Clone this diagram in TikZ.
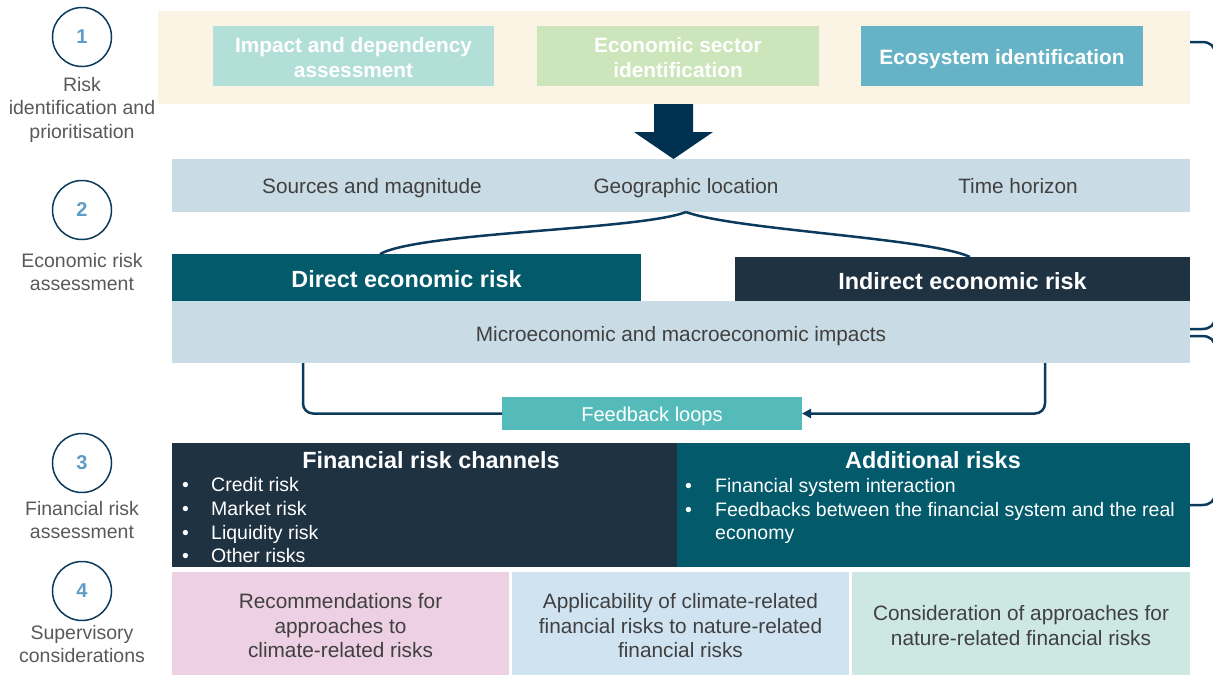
\documentclass[tikz,border=0pt]{standalone}
\usepackage{fontspec}
\setmainfont{Liberation Sans}
\usetikzlibrary{arrows.meta,calc}
\definecolor{cream}{HTML}{FBF4E4}
\definecolor{impactc}{HTML}{B2DFD8}
\definecolor{sectorc}{HTML}{CCE5BA}
\definecolor{ecoc}{HTML}{66B2C6}
\definecolor{arrownavy}{HTML}{003151}
\definecolor{bandblue}{HTML}{C9DCE6}
\definecolor{directc}{HTML}{025A6B}
\definecolor{indirectc}{HTML}{1F3241}
\definecolor{loopc}{HTML}{55BBBA}
\definecolor{pinkc}{HTML}{EDD0E3}
\definecolor{lightbluec}{HTML}{CFE3F1}
\definecolor{mintc}{HTML}{CDE8E3}
\definecolor{txtgray}{HTML}{404040}
\definecolor{lblgray}{HTML}{595959}
\definecolor{navy}{HTML}{0B3A5C}
\definecolor{numblue}{HTML}{5E9BC6}
\begin{document}
\begin{tikzpicture}[x=1pt,y=-1pt,
  rect/.style={draw=none,inner sep=0pt,outer sep=0pt},
  toptxt/.style={text=white,font=\bfseries\fontsize{20.8}{25}\selectfont,inner sep=0pt,align=center,anchor=base},
  body/.style={text=txtgray,font=\fontsize{20.8}{24.5}\selectfont,inner sep=0pt,align=center,anchor=base},
  head/.style={text=white,font=\bfseries\fontsize{23.4}{28}\selectfont,inner sep=0pt,anchor=base},
  bul/.style={text=white,font=\fontsize{19.5}{23.5}\selectfont,inner sep=0pt,anchor=base west,align=left},
  circ/.style={circle,draw=navy,line width=1.5pt,minimum size=59pt,inner sep=0pt,text=numblue,font=\bfseries\fontsize{20}{24}\selectfont},
  lbl/.style={text=lblgray,font=\fontsize{19.5}{23.5}\selectfont,align=center,inner sep=0pt,anchor=base},
  conn/.style={draw=navy,line width=2.5pt},
  brace/.style={draw=navy,line width=2.5pt}
]
\useasboundingbox (0,0) rectangle (1213,675);
\clip (0,0) rectangle (1213,675);

% row 1
\node[rect,fill=cream,minimum width=1032pt,minimum height=93pt] (band1) at (674,57.5) {};
\node[rect,fill=impactc,minimum width=281pt,minimum height=60pt] (impact) at (353.5,56) {};
\node[rect,fill=sectorc,minimum width=282pt,minimum height=60pt] (sector) at (678,56) {};
\node[rect,fill=ecoc,minimum width=282pt,minimum height=60pt] (eco) at (1002,56) {};
\node[toptxt] (impactT) at (353.5,77.5) {Impact and dependency\\assessment};
\node[toptxt] (sectorT) at (678,77.5) {Economic sector\\identification};
\node[toptxt] (ecoT) at (1002,64.5) {Ecosystem identification};

% big arrow
\fill[arrownavy] (654,104) -- (693,104) -- (693,132) -- (713,132) -- (673.5,159) -- (634,132) -- (654,132) -- cycle;

% row 2
\node[rect,fill=bandblue,minimum width=1018pt,minimum height=53pt] (band2) at (681,185.5) {};
\node[body] (src) at (372,193.5) {Sources and magnitude};
\node[body] (geo) at (686,193.5) {Geographic location};
\node[body] (time) at (1018,193.5) {Time horizon};

\node[rect,fill=directc,minimum width=469pt,minimum height=47pt] (direct) at (406.5,277.5) {};
\node[rect,fill=indirectc,minimum width=455pt,minimum height=44pt] (indirect) at (962.5,279) {};
\node[head] (directT) at (406.5,287.5) {Direct economic risk};
\node[head] (indirectT) at (962.5,289.5) {Indirect economic risk};
\node[rect,fill=bandblue,minimum width=1018pt,minimum height=62pt] (micro) at (681,332) {};
\node[body] (microtxt) at (681,341.5) {Microeconomic and macroeconomic impacts};

\coordinate (split) at (686,212);
\coordinate (dtop) at (380,254);
\coordinate (itop) at (970,257);
\draw[conn] (split) .. controls (640,230) and (420,232) .. (dtop);
\draw[conn] (split) .. controls (735,230) and (930,238) .. (itop);

% feedback
\node[rect,fill=loopc,minimum width=300pt,minimum height=33pt] (fb) at (652,413.5) {};
\node[text=white,font=\fontsize{20}{24}\selectfont,inner sep=0pt,anchor=base] (fbT) at (652,421) {Feedback loops};
\coordinate (lA) at (303,363);
\coordinate (rA) at (1045,363);
\draw[conn,rounded corners=10pt] (lA) |- (fb.west);
\draw[conn,rounded corners=10pt,-{Triangle[length=9pt,width=9pt]}] (rA) |- (fb.east);

% row 3
\node[rect,fill=indirectc,minimum width=505pt,minimum height=124pt] (chan) at (424.5,505) {};
\node[rect,fill=directc,minimum width=513pt,minimum height=124pt] (addl) at (933.5,505) {};
\node[head] (chanT) at (431,468.5) {Financial risk channels};
\node[head] (addlT) at (933,468.5) {Additional risks};
\foreach \yy/\tt [count=\i] in {491/Credit risk,515/Market risk,539/Liquidity risk,562/Other risks}{
  \node[bul] (cb\i) at (182,\yy) {\textbullet};
  \node[bul] (ct\i) at (211,\yy) {\tt};
}
\node[bul] (ab1) at (685,492) {\textbullet};
\node[bul] (at1) at (715,492) {Financial system interaction};
\node[bul] (ab2) at (685,516) {\textbullet};
\node[bul] (at2) at (715,539.5) {Feedbacks between the financial system and the real\\economy};

% row 4
\node[rect,fill=pinkc,minimum width=337pt,minimum height=103pt] (rec) at (340.5,623.5) {};
\node[rect,fill=lightbluec,minimum width=337pt,minimum height=103pt] (app) at (680.5,623.5) {};
\node[rect,fill=mintc,minimum width=338pt,minimum height=103pt] (cons) at (1021,623.5) {};
\node[body] (recT) at (340.5,657.5) {Recommendations for\\approaches to\\climate-related risks};
\node[body] (appT) at (680.5,657.5) {Applicability of climate-related\\financial risks to nature-related\\financial risks};
\node[body] (consT) at (1021,645) {Consideration of approaches for\\nature-related financial risks};

% left column
\node[circ] (c1) at (82,37) {1};
\node[circ] (c2) at (82,210) {2};
\node[circ] (c3) at (82,463) {3};
\node[circ] (c4) at (82,591) {4};
\node[lbl] (l1) at (82,138) {Risk\\identification and\\prioritisation};
\node[lbl] (l2) at (82,290.5) {Economic risk\\assessment};
\node[lbl] (l3) at (82,538.5) {Financial risk\\assessment};
\node[lbl] (l4) at (82,662.5) {Supervisory\\considerations};

% braces (partly cut by the right edge)
\draw[brace] (1190,42) -- (1202,42) .. controls (1210,42) and (1215,46) .. (1215,54) -- (1215,188)
  .. controls (1215,196) and (1220,200) .. (1228,200);
\draw[brace] (1228,200) .. controls (1220,200) and (1215,204) .. (1215,212) -- (1215,317)
  .. controls (1215,325) and (1210,329) .. (1202,329) -- (1190,329);
\draw[brace] (1190,336) -- (1202,336) .. controls (1210,336) and (1215,340) .. (1215,348) -- (1215,423)
  .. controls (1215,431) and (1220,435) .. (1228,435);
\draw[brace] (1228,435) .. controls (1220,435) and (1215,439) .. (1215,447) -- (1215,493)
  .. controls (1215,501) and (1210,505) .. (1202,505) -- (1190,505);
\end{tikzpicture}
\end{document}
